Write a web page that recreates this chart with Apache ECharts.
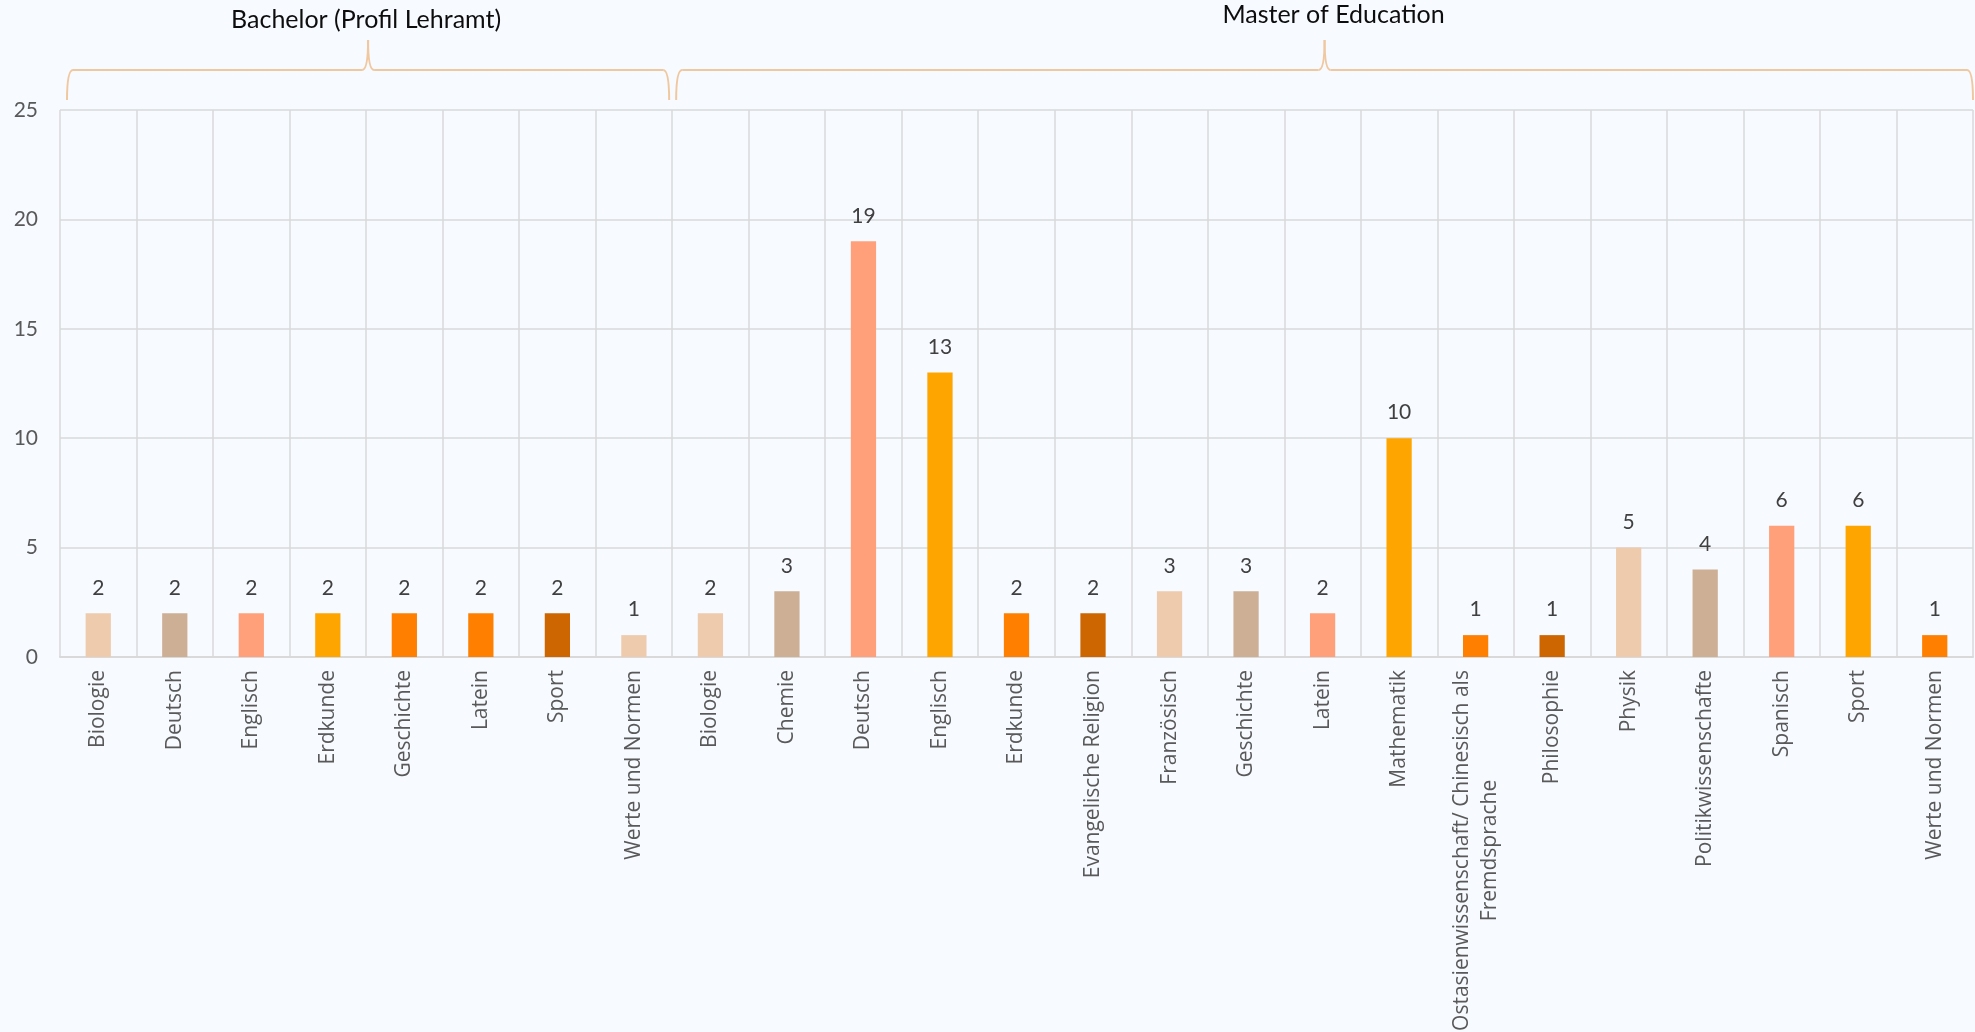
<!DOCTYPE html>
<html>
<head>
<meta charset="utf-8">
<script src="https://cdn.jsdelivr.net/npm/echarts@6/dist/echarts.min.js"></script>
<style>
html,body{margin:0;padding:0;background:#F7FAFF;}
#c{width:1975px;height:1032px;}
</style>
</head>
<body>
<div id="c"></div>
<script>
const groupNames = ['Bachelor (Profil Lehramt)', 'Master of Education'];
const bachelorCats = ['Biologie','Deutsch','Englisch','Erdkunde','Geschichte','Latein','Sport','Werte und Normen'];
const bachelorVals = [2,2,2,2,2,2,2,1];
const bachelorColors = ['#EECBAD','#CDAF95','#FFA07A','#FFA500','#FF7F00','#FF7F00','#CD6600','#EECBAD'];
const masterCats = ['Biologie','Chemie','Deutsch','Englisch','Erdkunde','Evangelische Religion','Französisch','Geschichte','Latein','Mathematik','Ostasienwissenschaft/ Chinesisch als\nFremdsprache','Philosophie','Physik','Politikwissenschafte','Spanisch','Sport','Werte und Normen'];
const masterVals = [2,3,19,13,2,2,3,3,2,10,1,1,5,4,6,6,1];
const masterColors = ['#EECBAD','#CDAF95','#FFA07A','#FFA500','#FF7F00','#CD6600','#EECBAD','#CDAF95','#FFA07A','#FFA500','#FF7F00','#CD6600','#EECBAD','#CDAF95','#FFA07A','#FFA500','#FF7F00'];
const yTicks = [0,5,10,15,20,25];

const categories = bachelorCats.concat(masterCats);
const values = bachelorVals.concat(masterVals);
const colors = bachelorColors.concat(masterColors);

const labelFont = '21px "Open Sans"';
const cv = document.createElement('canvas').getContext('2d');
cv.font = labelFont;

const chart = echarts.init(document.getElementById('c'));
chart.setOption({
  backgroundColor: '#F7FAFF',
  animation: false,
  grid: {left: 60, right: 2, top: 110, bottom: 375, containLabel: false, outerBoundsMode: 'none'},
  xAxis: {
    type: 'category',
    data: categories,
    axisLine: {show: true, lineStyle: {color: '#D9D9D9', width: 2}},
    axisTick: {show: false},
    splitLine: {show: true, interval: 0, lineStyle: {color: '#D9D9D9', width: 1.5}},
    axisLabel: {
      interval: 0, rotate: 90, margin: 13,
      fontFamily: 'Open Sans', fontSize: 21, color: '#595959',
      formatter: function (v) {
        if (v.indexOf('\n') >= 0) {
          const parts = v.split('\n');
          return parts.map(p => '{c|' + p + '}').join('\n');
        }
        return v;
      },
      rich: {
        c: {
          fontFamily: 'Open Sans', fontSize: 21, color: '#595959', align: 'center', lineHeight: 28,
          width: Math.ceil(cv.measureText('Ostasienwissenschaft/ Chinesisch als').width)
        }
      }
    }
  },
  yAxis: {
    type: 'value', min: 0, max: 25, interval: 5,
    axisLine: {show: false}, axisTick: {show: false},
    splitLine: {lineStyle: {color: '#D9D9D9', width: 1.5}},
    axisLabel: {margin: 22, fontFamily: 'Lato', fontSize: 21, color: '#595959',
      formatter: v => yTicks.indexOf(v) >= 0 ? String(v) : ''}
  },
  series: [{
    type: 'bar',
    barWidth: '33%',
    data: values.map((v, i) => ({value: v, itemStyle: {color: colors[i]}})),
    label: {show: true, position: 'top', distance: 15, fontFamily: 'Lato', fontSize: 21, color: '#404040'}
  }]
});

function drawBraces() {
  const c0 = chart.convertToPixel({xAxisIndex: 0}, 0);
  const c1 = chart.convertToPixel({xAxisIndex: 0}, 1);
  const bw = c1 - c0;
  const nB = bachelorCats.length, nAll = categories.length;
  const left = c0 - bw / 2;
  const groups = [
    {x0: left + 7, x1: left + nB * bw - 3, name: groupNames[0], ty: 20, dx: -2},
    {x0: left + nB * bw + 4, x1: left + nAll * bw, name: groupNames[1], ty: 15, dx: 9}
  ];
  const yH = 70, yEnd = 100, yTip = 40, r = 6;
  const st = {fill: null, stroke: '#F0C8A0', lineWidth: 2};
  const els = [];
  const curve = (x1, y1, x2, y2, cx, cy) => ({type: 'bezierCurve', shape: {x1, y1, x2, y2, cpx1: cx, cpy1: cy}, style: st, silent: true});
  const line = (x1, y1, x2, y2) => ({type: 'line', shape: {x1, y1, x2, y2}, style: st, silent: true});
  groups.forEach(g => {
    const tip = (g.x0 + g.x1) / 2;
    els.push(curve(g.x0, yEnd, g.x0 + r, yH, g.x0, yH));
    els.push(line(g.x0 + r, yH, tip - r, yH));
    els.push(curve(tip - r, yH, tip, yTip, tip, yH));
    els.push(curve(tip, yTip, tip + r, yH, tip, yH));
    els.push(line(tip + r, yH, g.x1 - r, yH));
    els.push(curve(g.x1 - r, yH, g.x1, yEnd, g.x1, yH));
    els.push({type: 'text', x: tip + g.dx, y: g.ty, style: {text: g.name, fontFamily: 'Lato', fontSize: 25, fill: '#0D0D0D', textAlign: 'center', textVerticalAlign: 'middle'}});
  });
  chart.setOption({graphic: els});
}
drawBraces();
</script>
</body>
</html>
